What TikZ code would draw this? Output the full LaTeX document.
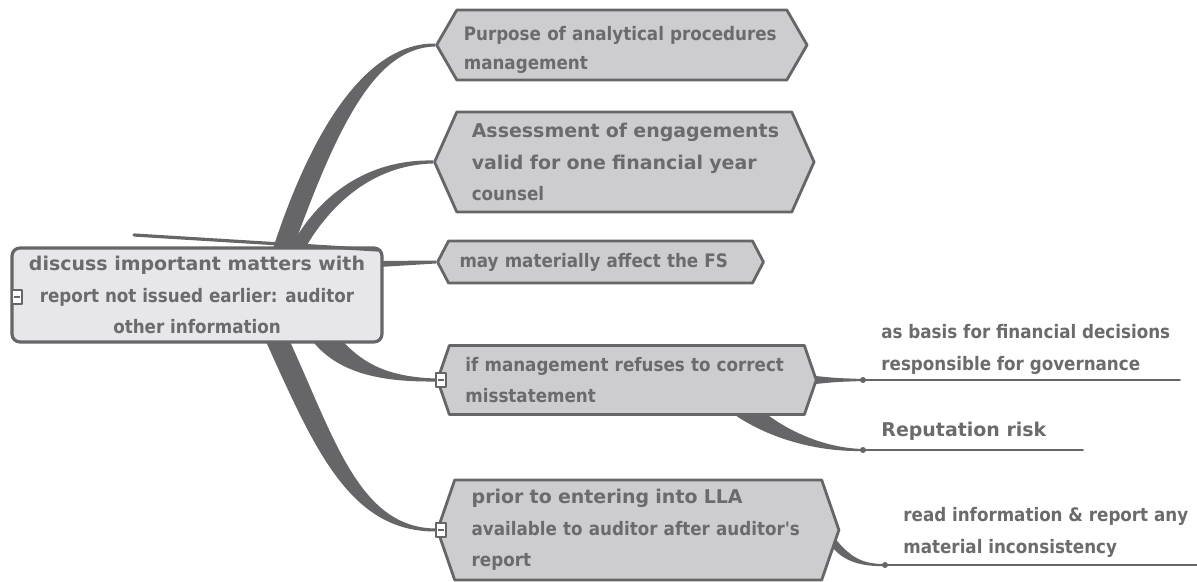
\documentclass[tikz,border=0pt]{standalone}
\usepackage{fontspec}
\setmainfont{DejaVu Sans Condensed}
\newfontfamily\widefont{DejaVu Sans}[Scale=1.02]
\usetikzlibrary{shapes.symbols,calc,backgrounds}
\definecolor{ink}{HTML}{666668}
\definecolor{txt}{HTML}{6B6B6D}
\definecolor{boxfill}{HTML}{CDCDCF}
\definecolor{rootfill}{HTML}{E7E7E9}
\begin{document}
\begin{tikzpicture}[x=0.5pt, y=-0.5pt, line join=round, line cap=round, font=\bfseries\fontsize{9.3}{15.8}\selectfont, text=txt]
	\tikzset{topic/.style={signal, signal to=west and east, draw=ink, fill=boxfill, line width=1.4pt, align=left, anchor=west, inner ysep=2pt},
		root/.style={draw=ink, fill=rootfill, line width=1.6pt, rounded corners=4pt, align=center, minimum width=185pt, minimum height=47pt, inner sep=0pt},
		minus/.style={draw=ink, fill=white, line width=0.6pt, minimum width=5pt, minimum height=7pt, inner sep=0pt},
		dot/.style={circle, fill=ink, minimum size=3pt, inner sep=0pt},
		leaf/.style={align=left, anchor=south west, inner sep=0pt},
		leafline/.style={draw=ink, line width=0.75pt},
		branch/.style={fill=ink}}
	\useasboundingbox (0,0) rectangle (1197,582);
	\path (863,380) coordinate (pA) (1180,380) coordinate (eA)
	(863,450) coordinate (pB) (1083,450) coordinate (eB)
	(885,565) coordinate (pC) (1197,565) coordinate (eC)
	;
	% central topic
	\node[root] (root) at (197,295) {{\widefont discuss important matters with}\\ report not issued earlier: auditor\\ other information};
	\draw[ink, line width=1.6pt] (134,235) -- (378,250);
	\node[minus] (rm) at (17,297) {\textcolor{ink}{\rule{3pt}{0.7pt}}};
	% main topics
	\node[topic, font=\bfseries\fontsize{9.3}{14.5}\selectfont, minimum height=35pt, signal pointer angle=120, inner xsep=3.5pt, text width=158pt] (n1) at (435,45) {\rule{0pt}{12pt}\mbox{Purpose of analytical procedures}\\ management};
	\node[topic, minimum height=50pt, signal pointer angle=132, inner xsep=7.5pt, text width=152.5pt] (n2) at (433,162) {\mbox{\widefont Assessment of engagements}\\ \mbox{\widefont valid for one financial year}\\ counsel};
	\node[topic, minimum height=21pt, signal pointer angle=125, inner xsep=5.5pt, text width=141pt] (n3) at (436,262) {may materially affect the FS};
	\node[topic, minimum height=34.5pt, signal pointer angle=142, inner xsep=8pt, text width=161.5pt] (n4) at (436,380) {\mbox{if management refuses to correct}\\ misstatement};
	\node[topic, minimum height=50pt, signal pointer angle=142, inner xsep=8.5pt, text width=166.5pt] (n5) at (436,530) {\mbox{\widefont prior to entering into LLA}\\ \mbox{available to auditor after auditor\textquotesingle s}\\ report};
	\node[minus] (m4) at (441,380) {\textcolor{ink}{\rule{3pt}{0.7pt}}};
	\node[minus] (m5) at (441,530) {\textcolor{ink}{\rule{3pt}{0.7pt}}};
	% subtopics
	\node[leaf] (lA) at (881,375) {as basis for financial decisions\\ responsible for governance};
	\node[leaf] (lB) at (881,441) {\widefont Reputation risk};
	\node[leaf] (lC) at (903,558) {read information \& report any\\ material inconsistency};
	\foreach \p in {A,B,C}
	\node[dot] (d\p) at (p\p) {};
	\foreach \p in {A,B,C}
	\draw[leafline] (d\p.center) -- (e\p);
	\begin{pgfonlayer}{background}
		\fill[branch] ($(root.north)+(76,2)$) .. controls (315,120) and (370,43) .. ($(n1.west)+(0,-1.5)$)
		-- ($(n1.west)+(0,1.5)$) .. controls (375,48) and (338,125) .. ($(root.north)+(96,2)$) -- cycle;
		\fill[branch] ($(root.north)+(93,2)$) .. controls (318,195) and (368,159) .. ($(n2.west)+(0,-1.5)$)
		-- ($(n2.west)+(0,1.5)$) .. controls (372,165) and (330,205) .. ($(root.north)+(108,2)$) -- cycle;
		\fill[branch] ($(root.east)+(-4,-34)$) -- ($(n3.west)+(0,-1.5)$) -- ($(n3.west)+(0,1.5)$) -- ($(root.east)+(-4,-28)$) -- cycle;
		\fill[branch] ($(root.south)+(116,-2)$) .. controls (340,375) and (385,382) .. ($(n4.west)+(0,1.5)$)
		-- ($(n4.west)+(0,-1.5)$) .. controls (390,377) and (365,365) .. ($(root.south)+(146,-2)$) -- cycle;
		\fill[branch] ($(root.south)+(69,-2)$) .. controls (315,450) and (350,532) .. ($(n5.west)+(0,1.5)$)
		-- ($(n5.west)+(0,-1.5)$) .. controls (360,528) and (335,440) .. ($(root.south)+(93,-2)$) -- cycle;
		% subtopic connectors
		\fill[branch] ($(n4.east)+(-2,-4)$) .. controls (835,378) .. ($(dA)+(0,-1)$)
		-- ($(dA)+(0,1)$) .. controls (835,382) .. ($(n4.east)+(-2,4)$) -- cycle;
		\fill[branch] ($(n4.south)+(105,-3)$) .. controls (770,440) and (820,452) .. ($(dB)+(0,1)$)
		-- ($(dB)+(0,-1)$) .. controls (825,448) and (790,432) .. ($(n4.south)+(138,-3)$) -- cycle;
		\fill[branch] ($(n5.east)+(-10,2)$) .. controls (850,560) and (865,564) .. ($(dC)+(0,-1)$)
		-- ($(dC)+(0,1)$) .. controls (860,567) and (840,560) .. ($(n5.east)+(-10,14)$) -- cycle;
	\end{pgfonlayer}
\end{tikzpicture}
\end{document}
